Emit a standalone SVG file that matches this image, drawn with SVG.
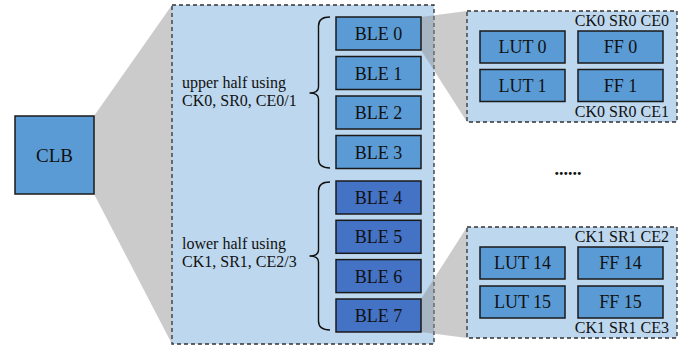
<svg xmlns="http://www.w3.org/2000/svg" width="686" height="347" viewBox="0 0 686 347">
<style>
.box{stroke:#1a1a1a;stroke-width:1.5}
.lt{fill:#5b9bd5}
.dk{fill:#4472c4}
.cont{fill:#bdd7ee;stroke:#333;stroke-width:1.3;stroke-dasharray:4,3}
.zoom{fill:#8c8c8c;fill-opacity:0.45}
.t{font-family:"Liberation Serif","Times New Roman",serif;fill:#111}
.b18{font-size:18px;text-anchor:middle}
.l16{font-size:16px}
.r16{font-size:16px;text-anchor:end}
.brace{fill:none;stroke:#111;stroke-width:1.4}
</style>
<rect width="686" height="347" fill="#fff"/>
<g id="zoom-clb"><polygon class="zoom" points="94,116 172,5 172,344 94,194"/></g>
<g id="container"><rect class="cont" x="172" y="5" width="262" height="339"/></g>
<g id="connectors">
<polygon class="zoom" points="421,17 467,11 467,122 421,50"/>
<polygon class="zoom" points="421,299 467,227 467,338 421,332"/>
<path class="brace" d="M330,17 Q318.5,17 318.5,26 L318.5,87 Q318.5,93 309.5,93 Q318.5,93 318.5,99 L318.5,159 Q318.5,168 330,168"/>
<path class="brace" d="M330,182 Q318.5,182 318.5,191 L318.5,250 Q318.5,256 309.5,256 Q318.5,256 318.5,262 L318.5,321 Q318.5,330 330,330"/>
</g>
<g id="clb"><rect class="box lt" x="15" y="116" width="79" height="78"/><text class="t" x="54.5" y="162" font-size="19" text-anchor="middle">CLB</text></g>
<g id="upper-label"><text class="t l16" x="182" y="88">upper half using</text><text class="t l16" x="182" y="106">CK0, SR0, CE0/1</text></g>
<g id="lower-label"><text class="t l16" x="182" y="249">lower half using</text><text class="t l16" x="182" y="267">CK1, SR1, CE2/3</text></g>
<g id="ble0"><rect class="box lt" x="336" y="17" width="85" height="33"/><text class="t b18" x="378.5" y="40">BLE 0</text></g>
<g id="ble1"><rect class="box lt" x="336" y="56.5" width="85" height="33"/><text class="t b18" x="378.5" y="79.5">BLE 1</text></g>
<g id="ble2"><rect class="box lt" x="336" y="96" width="85" height="33"/><text class="t b18" x="378.5" y="119">BLE 2</text></g>
<g id="ble3"><rect class="box lt" x="336" y="135.5" width="85" height="33"/><text class="t b18" x="378.5" y="158.5">BLE 3</text></g>
<g id="ble4"><rect class="box dk" x="336" y="181" width="85" height="33"/><text class="t b18" x="378.5" y="204">BLE 4</text></g>
<g id="ble5"><rect class="box dk" x="336" y="220.3" width="85" height="33"/><text class="t b18" x="378.5" y="243.3">BLE 5</text></g>
<g id="ble6"><rect class="box dk" x="336" y="259.6" width="85" height="33"/><text class="t b18" x="378.5" y="282.6">BLE 6</text></g>
<g id="ble7"><rect class="box dk" x="336" y="299" width="85" height="33"/><text class="t b18" x="378.5" y="322">BLE 7</text></g>
<g id="detail-top">
<rect class="cont" x="467" y="11" width="210" height="111"/>
<text class="t r16" x="669" y="26">CK0 SR0 CE0</text>
<text class="t r16" x="669" y="117">CK0 SR0 CE1</text>
</g>
<g id="lut0"><rect class="box lt" x="480" y="31" width="85" height="32"/><text class="t b18" x="522.5" y="53">LUT 0</text></g>
<g id="ff0"><rect class="box lt" x="578" y="31" width="85" height="32"/><text class="t b18" x="620.5" y="53">FF 0</text></g>
<g id="lut1"><rect class="box lt" x="480" y="69.5" width="85" height="32"/><text class="t b18" x="522.5" y="91.5">LUT 1</text></g>
<g id="ff1"><rect class="box lt" x="578" y="69.5" width="85" height="32"/><text class="t b18" x="620.5" y="91.5">FF 1</text></g>
<g id="ellipsis"><text class="t" x="568" y="175" font-size="18" font-weight="bold" text-anchor="middle">......</text></g>
<g id="detail-bottom">
<rect class="cont" x="467" y="227" width="210" height="111"/>
<text class="t r16" x="669" y="242">CK1 SR1 CE2</text>
<text class="t r16" x="669" y="333">CK1 SR1 CE3</text>
</g>
<g id="lut14"><rect class="box lt" x="480" y="247" width="85" height="32"/><text class="t b18" x="522.5" y="269">LUT 14</text></g>
<g id="ff14"><rect class="box lt" x="578" y="247" width="85" height="32"/><text class="t b18" x="620.5" y="269">FF 14</text></g>
<g id="lut15"><rect class="box lt" x="480" y="286" width="85" height="32"/><text class="t b18" x="522.5" y="308">LUT 15</text></g>
<g id="ff15"><rect class="box lt" x="578" y="286" width="85" height="32"/><text class="t b18" x="620.5" y="308">FF 15</text></g>
</svg>
